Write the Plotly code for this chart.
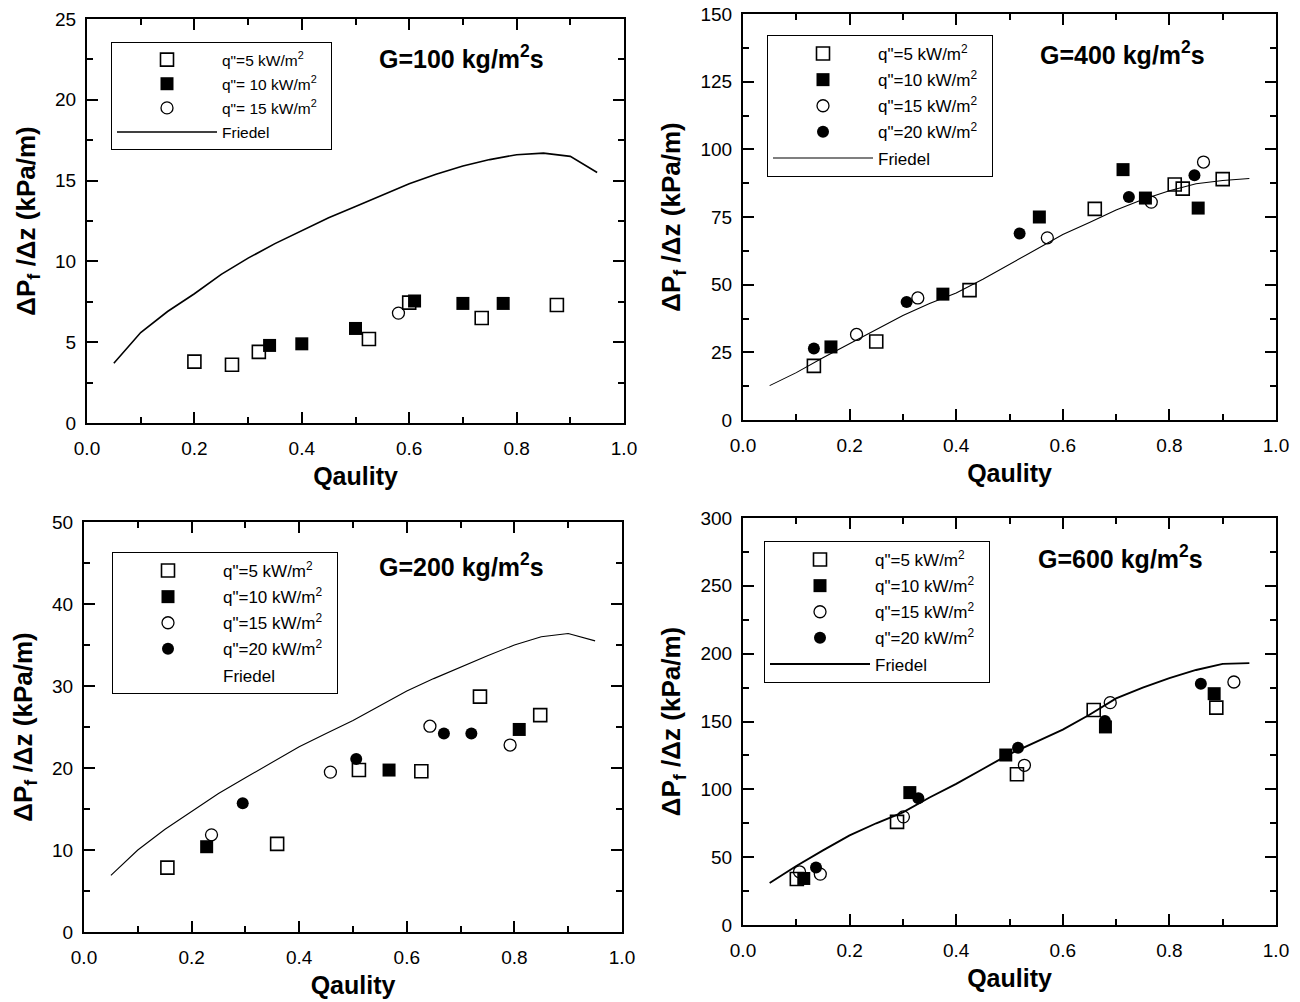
import plotly.graph_objects as go

# ---------------- data ----------------
# Panel G=100
g100_q5_x = [0.20, 0.27, 0.32, 0.525, 0.60, 0.735, 0.875]
g100_q5_y = [3.8, 3.6, 4.4, 5.2, 7.45, 6.5, 7.3]
g100_q10_x = [0.34, 0.40, 0.50, 0.61, 0.70, 0.775]
g100_q10_y = [4.8, 4.9, 5.85, 7.55, 7.4, 7.4]
g100_q15_x = [0.58]
g100_q15_y = [6.8]
friedel_x = [0.05, 0.10, 0.15, 0.20, 0.25, 0.30, 0.35, 0.40, 0.45, 0.50,
             0.55, 0.60, 0.65, 0.70, 0.75, 0.80, 0.85, 0.90, 0.95]
g100_friedel_y = [3.7, 5.6, 6.9, 8.0, 9.2, 10.2, 11.1, 11.9, 12.7, 13.4,
                  14.1, 14.8, 15.4, 15.9, 16.3, 16.6, 16.7, 16.5, 15.5]

# Panel G=400
g400_q5_x = [0.133, 0.25, 0.425, 0.66, 0.81, 0.825, 0.90]
g400_q5_y = [20, 29, 48, 78, 87, 85.5, 89]
g400_q10_x = [0.165, 0.375, 0.556, 0.713, 0.755, 0.854]
g400_q10_y = [27, 46.5, 75, 92.5, 82, 78.3]
g400_q15_x = [0.213, 0.328, 0.571, 0.766, 0.864]
g400_q15_y = [31.6, 45.1, 67.3, 80.5, 95.3]
g400_q20_x = [0.133, 0.307, 0.519, 0.724, 0.847]
g400_q20_y = [26.4, 43.6, 68.9, 82.4, 90.4]
g400_friedel_y = [12.7, 17.5, 23.0, 28.3, 33.5, 38.6, 43.0, 46.9, 52.0, 57.5,
                  63.0, 68.5, 73.0, 77.6, 81.5, 84.7, 87.3, 88.5, 89.2]

# Panel G=200
g200_q5_x = [0.155, 0.359, 0.511, 0.627, 0.736, 0.848]
g200_q5_y = [7.85, 10.75, 19.75, 19.6, 28.7, 26.45]
g200_q10_x = [0.228, 0.567, 0.809]
g200_q10_y = [10.4, 19.75, 24.7]
g200_q15_x = [0.237, 0.458, 0.643, 0.792]
g200_q15_y = [11.85, 19.5, 25.1, 22.8]
g200_q20_x = [0.295, 0.506, 0.669, 0.72]
g200_q20_y = [15.7, 21.1, 24.2, 24.2]
g200_friedel_y = [6.9, 10.0, 12.5, 14.7, 16.9, 18.8, 20.7, 22.6, 24.2, 25.8,
                  27.6, 29.4, 30.9, 32.3, 33.7, 35.0, 36.0, 36.4, 35.5]

# Panel G=600
g600_q5_x = [0.101, 0.289, 0.514, 0.658, 0.888]
g600_q5_y = [33.9, 76.0, 111.1, 158.5, 160.2]
g600_q10_x = [0.114, 0.313, 0.493, 0.680, 0.884]
g600_q10_y = [34.3, 97.6, 125.3, 146.0, 170.5]
g600_q15_x = [0.106, 0.145, 0.301, 0.528, 0.689, 0.921]
g600_q15_y = [39.2, 37.5, 79.7, 117.7, 163.9, 179.1]
g600_q20_x = [0.137, 0.329, 0.516, 0.679, 0.859]
g600_q20_y = [42.4, 93.5, 130.7, 150.4, 177.8]
g600_friedel_y = [31, 43.5, 55, 66, 75, 83, 94, 104, 115, 126,
                  135, 144, 155, 167, 175, 182, 188, 192.5, 193]

labels_a = ['q"=5 kW/m<sup>2</sup>', 'q"= 10 kW/m<sup>2</sup>', 'q"= 15 kW/m<sup>2</sup>']
labels_b = ['q"=5 kW/m<sup>2</sup>', 'q"=10 kW/m<sup>2</sup>', 'q"=15 kW/m<sup>2</sup>',
            'q"=20 kW/m<sup>2</sup>']
titles = ["G=100 kg/m<sup>2</sup>s", "G=400 kg/m<sup>2</sup>s",
          "G=200 kg/m<sup>2</sup>s", "G=600 kg/m<sup>2</sup>s"]

# ---------------- figure ----------------
W, H = 1300, 1002
FONT = "Liberation Sans, Arial, sans-serif"
fig = go.Figure()

styles = [
    dict(symbol="square-open", size=13, color="black", line=dict(width=1.6, color="black")),
    dict(symbol="square", size=13, color="black"),
    dict(symbol="circle-open", size=12, color="black", line=dict(width=1.3, color="black")),
    dict(symbol="circle", size=12, color="black"),
]

PAD = "\u00a0\u00a0"
panels = [
    ("", "legend", [(g100_q5_x, g100_q5_y), (g100_q10_x, g100_q10_y), (g100_q15_x, g100_q15_y)],
     g100_friedel_y, labels_a, True, 1.6),
    ("2", "legend2", [(g400_q5_x, g400_q5_y), (g400_q10_x, g400_q10_y), (g400_q15_x, g400_q15_y),
                      (g400_q20_x, g400_q20_y)], g400_friedel_y, labels_b, True, 1.1),
    ("3", "legend3", [(g200_q5_x, g200_q5_y), (g200_q10_x, g200_q10_y), (g200_q15_x, g200_q15_y),
                      (g200_q20_x, g200_q20_y)], g200_friedel_y, labels_b, False, 1.1),
    ("4", "legend4", [(g600_q5_x, g600_q5_y), (g600_q10_x, g600_q10_y), (g600_q15_x, g600_q15_y),
                      (g600_q20_x, g600_q20_y)], g600_friedel_y, labels_b, True, 1.9),
]

for pi, (suf, leg, series, fy, labs, friedel_line, lw) in enumerate(panels):
    xa, ya = "x" + suf, "y" + suf
    fig.add_trace(go.Scatter(x=friedel_x, y=fy, mode="lines", xaxis=xa, yaxis=ya,
                             line=dict(color="black", width=lw), name="Friedel",
                             showlegend=friedel_line, legend=leg, legendgroup=f"p{pi}f",
                             legendrank=10))
    if not friedel_line:
        fig.add_trace(go.Scatter(x=[None], y=[None], mode="lines", xaxis=xa, yaxis=ya,
                                 line=dict(color="rgba(0,0,0,0)", width=1), name="Friedel",
                                 showlegend=True, legend=leg, legendgroup=f"p{pi}f",
                                 legendrank=10))
    for si, ((sx, sy), lab) in enumerate(zip(series, labs)):
        st = styles[si]
        mk = dict(symbol=st["symbol"], size=st["size"], color=st["color"])
        if "line" in st:
            mk["line"] = st["line"]
        fig.add_trace(go.Scatter(x=sx, y=sy, mode="markers", xaxis=xa, yaxis=ya,
                                 marker=mk, name=lab + PAD, legend=leg,
                                 legendgroup=f"p{pi}s{si}", legendrank=si + 1))

# plot-area pixel boxes: left, right, top, bottom
boxes = [(87, 624, 19, 423), (743, 1276, 14, 420), (84, 622, 522, 932), (743, 1276, 518, 925)]
yranges = [(0, 25, 5), (0, 150, 25), (0, 50, 10), (0, 300, 50)]
suffixes = ["", "2", "3", "4"]

axis_common = dict(showgrid=False, zeroline=False, showline=True, linecolor="black",
                   linewidth=2, ticks="inside", mirror="ticks", ticklen=11, tickwidth=2,
                   tickcolor="black", automargin=False,
                   tickfont=dict(family=FONT, size=19, color="black"))

layout = dict(width=W, height=H, margin=dict(l=0, r=0, t=0, b=0),
              paper_bgcolor="white", plot_bgcolor="white")

for i, (suf, (l, r, t, b), (y0, y1, dy)) in enumerate(zip(suffixes, boxes, yranges)):
    xd = [l / W, r / W]
    yd = [1 - b / H, 1 - t / H]
    layout["xaxis" + suf] = dict(axis_common, domain=xd, range=[0, 1], dtick=0.2, tick0=0,
                                 tickformat=".1f", anchor="y" + suf, ticklabelstandoff=7,
                                 title=dict(text="<b>Qaulity</b>", standoff=10,
                                            font=dict(family=FONT, size=25, color="black")),
                                 minor=dict(dtick=0.1, ticklen=6, tickwidth=1.5,
                                            tickcolor="black", ticks="inside"))
    layout["yaxis" + suf] = dict(axis_common, domain=yd, range=[y0, y1], dtick=dy, tick0=0,
                                 anchor="x" + suf, ticklabelstandoff=5,
                                 title=dict(text="<b>ΔP<sub>f</sub> /Δz (kPa/m)</b>", standoff=12,
                                            font=dict(family=FONT, size=26, color="black")),
                                 minor=dict(dtick=dy / 2, ticklen=6, tickwidth=1.5,
                                            tickcolor="black", ticks="inside"))

# legend boxes (left, top) in pixels and font sizes
leg_pos = [(111, 42), (767, 35), (112, 552), (764, 541)]
leg_font = [15.5, 17, 17, 17]
leg_names = ["legend", "legend2", "legend3", "legend4"]
for name, (lx, ly), fs in zip(leg_names, leg_pos, leg_font):
    layout[name] = dict(x=lx / W, y=1 - ly / H, xanchor="left", yanchor="top",
                        bgcolor="white", bordercolor="black", borderwidth=1,
                        font=dict(family=FONT, size=fs, color="black"),
                        itemwidth=100, tracegroupgap=1, traceorder="grouped",
                        itemclick=False, itemdoubleclick=False)

fig.update_layout(**layout)

title_pos = [(461, 57), (1122, 53), (461, 565), (1120, 557)]
for txt, (tx, ty) in zip(titles, title_pos):
    fig.add_annotation(text=f"<b>{txt}</b>", x=tx / W, y=1 - ty / H, xref="paper", yref="paper",
                       showarrow=False, xanchor="center", yanchor="middle",
                       font=dict(family=FONT, size=25, color="black"))

fig.write_html("out.html", config={"displayModeBar": False},
               post_script="document.body.style.margin='0px';")
